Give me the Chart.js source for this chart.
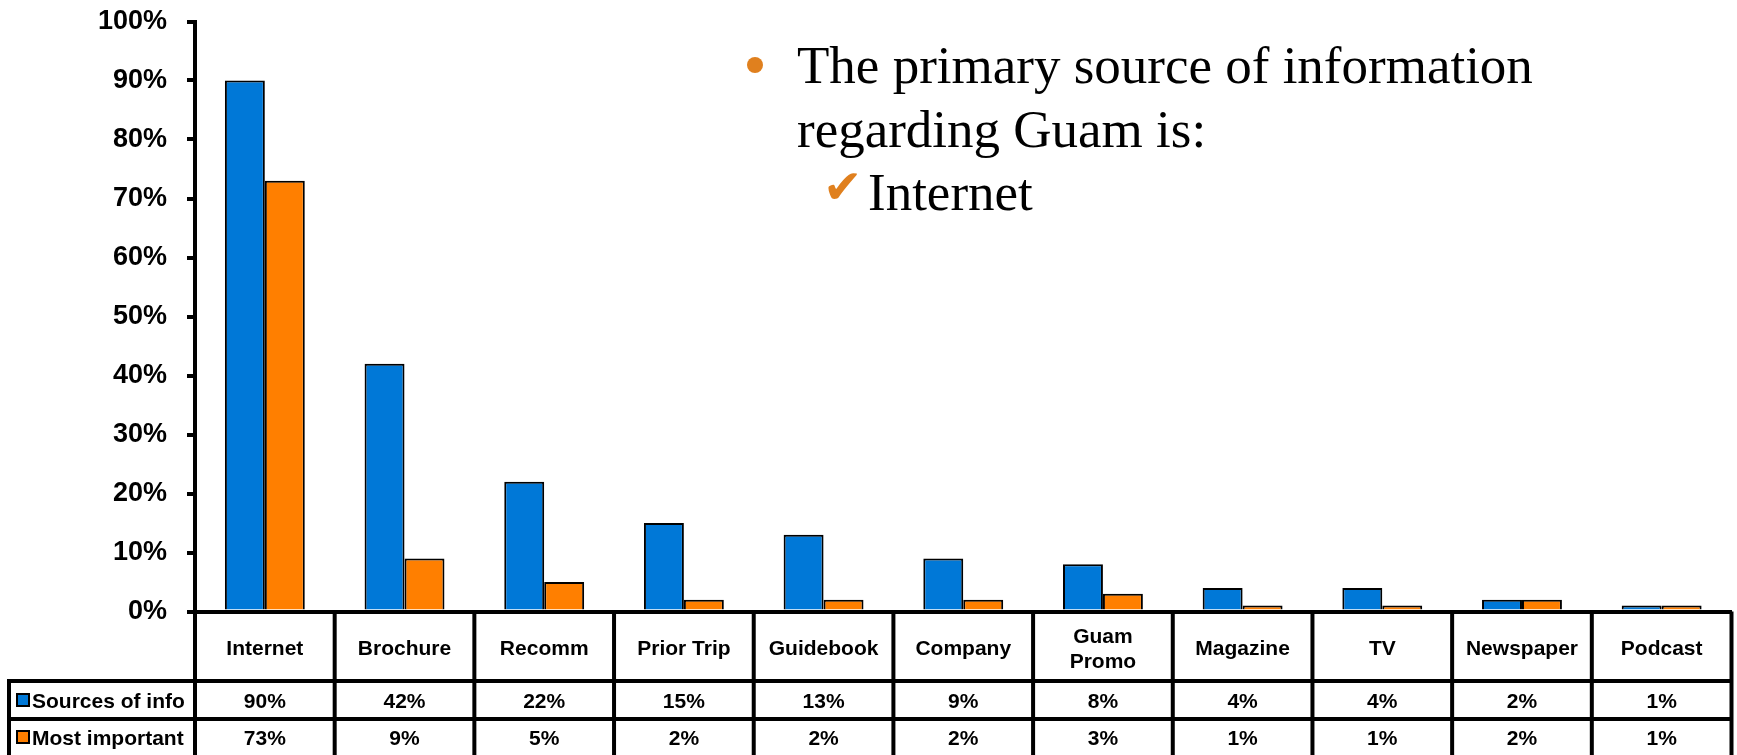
<!DOCTYPE html>
<html>
<head>
<meta charset="utf-8">
<title>Sources of information about Guam</title>
<script src="https://cdn.jsdelivr.net/npm/chart.js@4.4.1/dist/chart.umd.min.js"></script>
<style>
  html, body { margin: 0; padding: 0; background: #ffffff; }
  #wrap { position: relative; width: 1737px; height: 755px; overflow: hidden; }
  #chart { position: absolute; left: 0; top: 0; }
  .note {
    position: absolute;
    font-family: "Liberation Serif", "Times New Roman", serif;
    font-size: 53px;
    line-height: 64px;
    color: #000000;
    white-space: nowrap;
  }
  .dot {
    position: absolute;
    left: 747px; top: 57px;
    width: 16px; height: 16px;
    border-radius: 50%;
    background: #e0801e;
  }
  .check {
    position: absolute;
    left: 823px; top: 163px;
    font-family: "DejaVu Sans", sans-serif;
    font-size: 47px;
    line-height: 47px;
    color: #e0801e;
  }
</style>
</head>
<body>
<div id="wrap">
  <canvas id="chart" width="1737" height="755"></canvas>
  <div class="dot"></div>
  <div class="note" style="left: 797px; top: 33px;">The primary source of information</div>
  <div class="note" style="left: 797px; top: 97px;">regarding Guam is:</div>
  <div class="check">✔</div>
  <div class="note" style="left: 868px; top: 160px;">Internet</div>
</div>

<script>
// Survey categories and the two answer series (percent of respondents)
const categories = ['Internet', 'Brochure', 'Recomm', 'Prior Trip', 'Guidebook', 'Company',
  ['Guam', 'Promo'], 'Magazine', 'TV', 'Newspaper', 'Podcast'];
const sourcesOfInfo = [90, 42, 22, 15, 13, 9, 8, 4, 4, 2, 1];
const mostImportant = [73, 9, 5, 2, 2, 2, 3, 1, 1, 2, 1];
const seriesNames = ['Sources of info', 'Most important'];
const yTicks = [0, 10, 20, 30, 40, 50, 60, 70, 80, 90, 100];

const BLUE = '#0078d7';
const ORANGE = '#ff7f00';
const tableFont = 'bold 21px "Liberation Sans", Arial, sans-serif';

// Draws the data table under the plot: category row + one row per series
const dataTable = {
  id: 'dataTable',
  afterDraw(chart) {
    const { ctx, chartArea } = chart;
    const x = chart.scales.x;
    const H = chart.height;
    const step = (chartArea.right - chartArea.left) / categories.length;
    const row1Top = 681;
    const row2Top = 719;
    const tableLeft = 9;

    ctx.save();
    ctx.strokeStyle = '#000';
    ctx.lineWidth = 4;
    ctx.beginPath();
    // column separators
    for (let i = 0; i <= categories.length; i++) {
      const px = chartArea.left + step * i;
      ctx.moveTo(px, chartArea.bottom);
      ctx.lineTo(px, H);
    }
    // row separators
    ctx.moveTo(tableLeft - 2, row1Top);
    ctx.lineTo(chartArea.right + 2, row1Top);
    ctx.moveTo(tableLeft - 2, row2Top);
    ctx.lineTo(chartArea.right + 2, row2Top);
    // legend column edge
    ctx.moveTo(tableLeft, row1Top);
    ctx.lineTo(tableLeft, H);
    ctx.stroke();

    ctx.fillStyle = '#000';
    ctx.font = tableFont;
    ctx.textAlign = 'center';
    ctx.textBaseline = 'middle';

    const catMid = 649;
    const r1Mid = 702;
    const r2Mid = 739;

    categories.forEach((cat, i) => {
      const cx = x.getPixelForValue(i);
      if (Array.isArray(cat)) {
        ctx.fillText(cat[0], cx, catMid - 12);
        ctx.fillText(cat[1], cx, catMid + 13);
      } else {
        ctx.fillText(cat, cx, catMid);
      }
      ctx.fillText(sourcesOfInfo[i] + '%', cx, r1Mid);
      ctx.fillText(mostImportant[i] + '%', cx, r2Mid);
    });

    // legend keys
    ctx.textAlign = 'left';
    [[r1Mid, BLUE], [r2Mid, ORANGE]].forEach(([cy, color], k) => {
      ctx.fillStyle = color;
      ctx.fillRect(17, cy - 8, 12, 12);
      ctx.lineWidth = 2;
      ctx.strokeRect(17, cy - 8, 12, 12);
      ctx.fillStyle = '#000';
      ctx.fillText(seriesNames[k], 32, cy);
    });
    ctx.restore();
  }
};

new Chart(document.getElementById('chart'), {
  type: 'bar',
  data: {
    labels: categories,
    datasets: [
      {
        label: seriesNames[0],
        data: sourcesOfInfo,
        backgroundColor: BLUE,
        borderColor: '#000',
        borderWidth: 2
      },
      {
        label: seriesNames[1],
        data: mostImportant,
        backgroundColor: ORANGE,
        borderColor: '#000',
        borderWidth: 2
      }
    ]
  },
  options: {
    responsive: false,
    animation: false,
    categoryPercentage: 0.572,
    barPercentage: 1,
    layout: { padding: { left: 0, right: 5.5, top: 21.5, bottom: 0 } },
    plugins: {
      legend: { display: false },
      tooltip: { enabled: false }
    },
    scales: {
      x: {
        grid: { display: false, drawTicks: false },
        border: { display: true, color: '#000', width: 4 },
        ticks: { display: false },
        afterFit(scale) { scale.height = 143.5; }
      },
      y: {
        min: 0,
        max: 100,
        afterBuildTicks(scale) { scale.ticks = yTicks.map(v => ({ value: v })); },
        afterFit(scale) {
          scale.width = 195;
          // labels fit inside the layout padding already
          scale.paddingTop = 0;
          scale.paddingBottom = 0;
        },
        grid: {
          drawOnChartArea: false,
          drawTicks: true,
          tickLength: 8,
          lineWidth: 4,
          color: '#000'
        },
        border: { display: true, color: '#000', width: 4 },
        ticks: {
          padding: 20,
          color: '#000',
          font: { family: '"Liberation Sans", Arial, sans-serif', size: 27, weight: 'bold' },
          callback: v => v + '%'
        }
      }
    }
  },
  plugins: [dataTable]
});
</script>
</body>
</html>
